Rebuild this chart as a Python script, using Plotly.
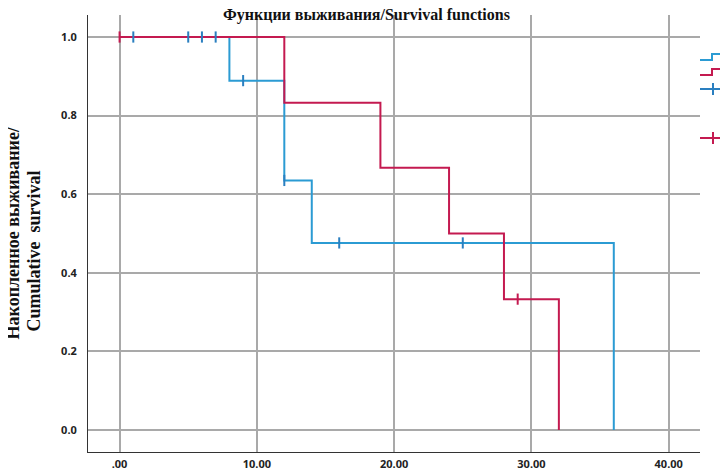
import plotly.graph_objects as go

# Kaplan-Meier step data
blue_times = [0, 8, 12, 14, 36]
blue_surv = [1.0, 0.889, 0.635, 0.476, 0.0]
blue_cens_t = [1, 5, 6, 7, 9, 12, 16, 25]
blue_cens_s = [1.0, 1.0, 1.0, 1.0, 0.889, 0.635, 0.476, 0.476]

red_times = [0, 12, 19, 24, 28, 32]
red_surv = [1.0, 0.833, 0.667, 0.5, 0.333, 0.0]
red_cens_t = [0, 29]
red_cens_s = [1.0, 0.333]

x_ticks = [0, 10, 20, 30, 40]
x_ticktext = [".00", "10.00", "20.00", "30.00", "40.00"]
y_ticks = [0.0, 0.2, 0.4, 0.6, 0.8, 1.0]
y_ticktext = ["0.0", "0.2", "0.4", "0.6", "0.8", "1.0"]

BLUE = "#2b9bd3"
BLUE_MARK = "#2a7fc0"
RED = "#c41a50"

fig = go.Figure()
fig.add_trace(go.Scatter(x=blue_times, y=blue_surv, mode="lines", line=dict(shape="hv", color=BLUE, width=2), showlegend=False))
fig.add_trace(go.Scatter(x=red_times, y=red_surv, mode="lines", line=dict(shape="hv", color=RED, width=2), showlegend=False))
fig.add_trace(go.Scatter(x=blue_cens_t, y=blue_cens_s, mode="markers",
                         marker=dict(symbol="line-ns", size=8, line=dict(color=BLUE_MARK, width=2)), showlegend=False))
fig.add_trace(go.Scatter(x=red_cens_t, y=red_cens_s, mode="markers",
                         marker=dict(symbol="line-ns", size=8, line=dict(color=RED, width=2)), showlegend=False))

# page body has an 8px default margin; figure sized/offset to compensate
OFF = 8
W, H = 728 - OFF, 469 - OFF
PLOT_L, PLOT_R, PLOT_T, PLOT_B = 88, 700, 15, 452  # in page pixels
L, R, T, B = PLOT_L - OFF, W - (PLOT_R - OFF), PLOT_T - OFF, H - (PLOT_B - OFF)
pw, ph = W - L - R, H - T - B

def px(xp):
    return (xp - OFF - L) / pw

def py(yp):
    return (H - B - (yp - OFF)) / ph

shapes = []
# legend icons (cut off at right edge)
def step_icon(y0, color):
    path = f"M {px(700)},{py(y0+3)} L {px(712)},{py(y0+3)} L {px(712)},{py(y0-3)} L {px(722)},{py(y0-3)} L {px(722)},{py(y0)}"
    shapes.append(dict(type="path", xref="paper", yref="paper", path=path, line=dict(color=color, width=2)))

def plus_icon(y0, color):
    shapes.append(dict(type="line", xref="paper", yref="paper", x0=px(700), x1=px(727), y0=py(y0), y1=py(y0), line=dict(color=color, width=2)))
    shapes.append(dict(type="line", xref="paper", yref="paper", x0=px(713), x1=px(713), y0=py(y0-6), y1=py(y0+6), line=dict(color=color, width=2)))

step_icon(57, BLUE)
step_icon(72, RED)
plus_icon(89, BLUE_MARK)
plus_icon(138, RED)

fig.update_layout(
    width=W, height=H,
    margin=dict(l=L, r=R, t=T, b=B, autoexpand=False),
    paper_bgcolor="white", plot_bgcolor="white",
    shapes=shapes,
    xaxis=dict(range=[-2.3, 42.28], tickvals=x_ticks, ticktext=x_ticktext,
               showgrid=True, gridcolor="#a9a9a9", gridwidth=1.5,
               showline=True, linecolor="#333333", linewidth=1, zeroline=False,
               ticks="", ticklabelstandoff=2,
               tickfont=dict(family="Noto Sans", size=11, color="#222222", weight="bold")),
    yaxis=dict(range=[-0.056, 1.056], tickvals=y_ticks, ticktext=y_ticktext,
               showgrid=True, gridcolor="#a9a9a9", gridwidth=1.5,
               showline=True, linecolor="#333333", linewidth=1, zeroline=False,
               ticks="", ticklabelstandoff=8,
               tickfont=dict(family="Noto Sans", size=11, color="#222222", weight="bold")),
    annotations=[
        dict(text="<b>Функции выживания/Survival functions</b>", xref="paper", yref="paper",
             x=px(366), y=py(15), xanchor="center", yanchor="middle", showarrow=False,
             font=dict(family="Liberation Serif", size=16, color="#111111")),
        dict(text="<b>Накопленное выживание/</b>", xref="paper", yref="paper",
             x=px(13), y=py(342), xanchor="center", yanchor="bottom", textangle=-90, showarrow=False,
             font=dict(family="Liberation Serif", size=18, color="#111111")),
        dict(text="<b>Cumulative  survival</b>", xref="paper", yref="paper",
             x=px(33), y=py(334), xanchor="center", yanchor="bottom", textangle=-90, showarrow=False,
             font=dict(family="Liberation Serif", size=18, color="#111111")),
    ],
)

fig.write_html("out.html")
